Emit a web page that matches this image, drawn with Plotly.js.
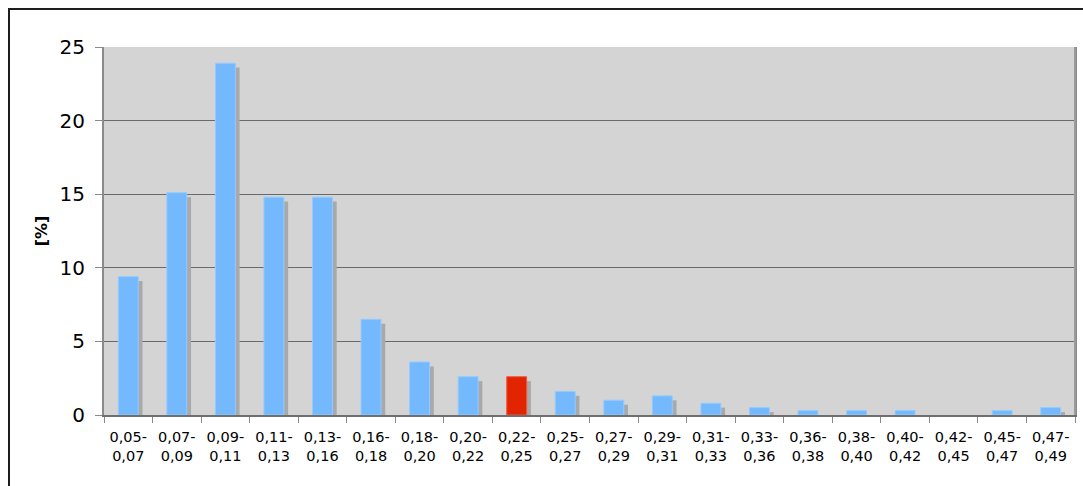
<!DOCTYPE html>
<html>
<head>
<meta charset="utf-8">
<script src="https://cdn.plot.ly/plotly-3.0.1.min.js"></script>
<style>
  html, body { margin: 0; padding: 0; background: #fff; }
  #wrap { position: relative; width: 1083px; height: 486px; overflow: hidden; }
  #chart { width: 1083px; height: 486px; }
  #frame {
    position: absolute; left: 8px; top: 8px; width: 1100px; height: 500px;
    border-top: 2px solid #1e1e1e; border-left: 2px solid #1e1e1e;
    box-sizing: border-box; pointer-events: none;
  }
</style>
</head>
<body>
<div id="wrap">
  <div id="chart"></div>
  <div id="frame"></div>
</div>
<script>
// Class ranges (lower and upper bound of each bin)
const binLow  = ["0,05","0,07","0,09","0,11","0,13","0,16","0,18","0,20","0,22","0,25",
                 "0,27","0,29","0,31","0,33","0,36","0,38","0,40","0,42","0,45","0,47"];
const binHigh = ["0,07","0,09","0,11","0,13","0,16","0,18","0,20","0,22","0,25","0,27",
                 "0,29","0,31","0,33","0,36","0,38","0,40","0,42","0,45","0,47","0,49"];
// Share of observations per bin [%]
const share   = [9.4, 15.1, 23.9, 14.8, 14.8, 6.5, 3.6, 2.6, 2.6, 1.6,
                 1.0, 1.3, 0.8, 0.5, 0.3, 0.3, 0.3, 0.0, 0.3, 0.5];
// Highlighted bin
const highlightBin = "0,22";
const yTicks = [0, 5, 10, 15, 20, 25];

const categories = binLow.map((lo, i) => lo + "-<br>" + binHigh[i]);

const blue = "#74b9fd", red = "#e32400";
const barColors = binLow.map(b => b === highlightBin ? red : blue);
const barEdges  = binLow.map(b => b === highlightBin ? "#ee5a3c" : "#94cbff");
const edgeWidths = share.map(v => v > 0 ? 1 : 0);

const barWidth = 0.41;
const shadowShift = 0.088;   // horizontal shadow offset (category units)
const shadowDrop = 0.3;      // vertical shadow drop (% units)

const shadow = {
  type: "bar", x: categories,
  y: share.map(v => Math.max(0, v - shadowDrop)),
  width: barWidth, offset: -barWidth / 2 + shadowShift,
  marker: { color: "#a9a9a9", line: { width: 0 } },
  hoverinfo: "skip", showlegend: false
};
const bars = {
  type: "bar", x: categories, y: share,
  width: barWidth, offset: -barWidth / 2,
  marker: { color: barColors, line: { color: barEdges, width: edgeWidths } },
  showlegend: false
};

const layout = {
  width: 1083, height: 486,
  margin: { l: 104, r: 8, t: 47, b: 71 },
  paper_bgcolor: "#ffffff",
  plot_bgcolor: "#d4d4d4",
  barmode: "overlay",
  font: { family: "DejaVu Sans, Verdana, sans-serif", color: "#000" },
  xaxis: {
    type: "category",
    tickson: "boundaries",
    ticks: "outside", ticklen: 6, tickcolor: "#8a8a8a", tickwidth: 1,
    tickfont: { size: 14.5, color: "#000" },
    ticklabelstandoff: 8,
    showline: true, linecolor: "#6e6e6e", linewidth: 2, mirror: false,
    showgrid: false, zeroline: false, fixedrange: true
  },
  yaxis: {
    range: [0, 25],
    tickmode: "array", tickvals: yTicks, ticktext: yTicks.map(String),
    ticks: "outside", ticklen: 7, tickcolor: "#8a8a8a", tickwidth: 1,
    tickfont: { size: 20, color: "#000" },
    ticklabelstandoff: 6,
    showgrid: true, gridcolor: "#6a6a6a", gridwidth: 1,
    showline: true, linecolor: "#8a8a8a", linewidth: 2, mirror: true,
    zeroline: false, fixedrange: true,
    title: { text: "<b>[%]</b>", font: { size: 16, color: "#000" }, standoff: 8 }
  },
  shapes: [{
    type: "line", xref: "paper", yref: "paper", x0: 1, x1: 1, y0: 0, y1: 1,
    line: { color: "#9a9a9a", width: 2 }
  }]
};

Plotly.newPlot("chart", [shadow, bars], layout, { displayModeBar: false, staticPlot: true });
</script>
</body>
</html>
